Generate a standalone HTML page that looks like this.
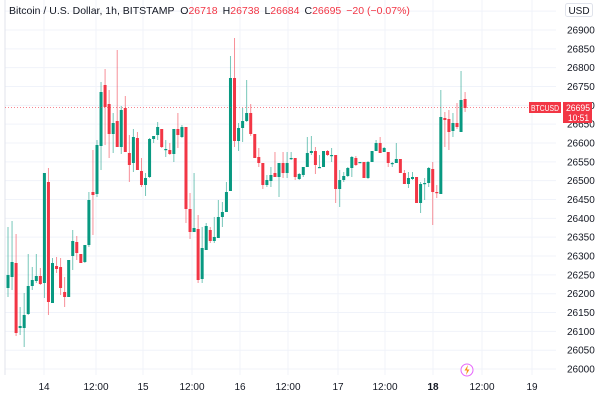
<!DOCTYPE html>
<html><head><meta charset="utf-8">
<style>
html,body{margin:0;padding:0;background:#fff;}
body{width:600px;height:400px;overflow:hidden;position:relative;font-family:"Liberation Sans",sans-serif;}
svg{position:absolute;left:0;top:0;}
</style></head><body>
<svg id="s" width="600" height="400" xmlns="http://www.w3.org/2000/svg" font-family="Liberation Sans, sans-serif">
<g id="grid"></g>
<line x1="5" y1="0" x2="5" y2="375" stroke="#e0e3eb" stroke-width="1"/>
<g id="candles"></g>
<line x1="5" y1="107.5" x2="556" y2="107.5" stroke="#f23645" stroke-width="1" stroke-dasharray="1,2" opacity="0.6"/>
<text x="9" y="14" font-size="10.5" fill="#131722">Bitcoin / U.S. Dollar, 1h, BITSTAMP <tspan dx="3">O</tspan><tspan fill="#f23645">26718</tspan><tspan dx="5">H</tspan><tspan fill="#f23645">26738</tspan><tspan dx="5">L</tspan><tspan fill="#f23645">26684</tspan><tspan dx="5">C</tspan><tspan fill="#f23645">26695</tspan><tspan dx="5" fill="#f23645">−20 (−0.07%)</tspan></text>
<rect x="565.5" y="3.5" width="27" height="13" rx="2" fill="#fff" stroke="#e0e3eb"/>
<text x="579" y="14" font-size="10" fill="#131722" text-anchor="middle">USD</text>
<g id="plabels" font-size="10" fill="#131722"></g>
<g font-size="10" fill="#131722" text-anchor="middle">
<text x="44" y="390">14</text><text x="96" y="390">12:00</text><text x="143" y="390">15</text><text x="192" y="390">12:00</text><text x="240" y="390">16</text><text x="288" y="390">12:00</text><text x="338" y="390">17</text><text x="385" y="390">12:00</text><text x="433" y="390" font-weight="bold">18</text><text x="482" y="390">12:00</text><text x="532" y="390">19</text>
</g>
<rect x="529" y="102" width="32" height="11" fill="#f23645"/>
<text x="531" y="111" font-size="8.5" fill="#fff" textLength="28" lengthAdjust="spacingAndGlyphs">BTCUSD</text>
<rect x="563" y="102" width="29" height="21" fill="#f23645"/>
<text x="566" y="111" font-size="9" fill="#fff" textLength="24" lengthAdjust="spacingAndGlyphs">26695</text>
<text x="568" y="121" font-size="9" fill="#fff" textLength="21" lengthAdjust="spacingAndGlyphs">10:51</text>
<circle cx="467" cy="370" r="6" fill="#fff" stroke="#e040fb" stroke-width="1" opacity="0.8"/>
<path d="M468 365 L464.5 370.5 L467 370.5 L466 375 L469.5 369.5 L467 369.5 Z" fill="#f7931a"/>
</svg>
<script>
var NS="http://www.w3.org/2000/svg";
function el(p,t,a){var e=document.createElementNS(NS,t);for(var k in a)e.setAttribute(k,a[k]);p.appendChild(e);return e;}
var g=document.getElementById('grid'),pl=document.getElementById('plabels');
function yp(p){return 30+(26900-p)*0.3767;}
for(var p=26000;p<=26950;p+=50){var y=yp(p);el(g,'line',{x1:5,x2:556,y1:y,y2:y,stroke:'#f0f3fa','stroke-width':1});if(p<=26900){var t=el(pl,'text',{x:567,y:y+3.5});t.textContent=p;}}
[44,96,143,192,240,288,338,385,433,482,532].forEach(function(x){el(g,'line',{x1:x,x2:x,y1:0,y2:375,stroke:'#f0f3fa','stroke-width':1});});
var d=[
['g',275,288,227,297],['g',262,277,221,290],['r',263,333,234,336],['g',326,328,307,335],['g',315,328,293,347],['g',286,314,254,315],['g',280,286,267,290],['g',276,281,254,283],['r',276,284,268,285],['g',173,283,173,298],
['r',182,302,168,315],['g',263,303,258,303],['r',266,269,257,273],['r',267,288,258,295],['r',292,297,277,307],['g',260,297,260,297],['g',241,256,230,270],['r',242,253,236,260],['r',254,263,254,263],['g',245,262,245,263],
['g',200,245,192,247],['r',192,195,150,235],['g',145,194,140,197],['g',92,146,82,170],['r',85,107,69,145],['r',104,134,90,158],['g',123,134,113,153],['r',121,147,50,147],['g',110,147,106,154],['r',108,152,96,152],
['r',153,165,135,182],['g',137,163,129,172],['r',138,170,132,170],['r',171,185,158,187],['g',178,185,173,196],['g',139,177,138,178],['g',136,139,136,143],['g',127,135,122,140],['r',129,147,129,148],['g',149,150,140,157],
['r',150,154,143,155],['g',129,154,129,162],['r',129,135,113,148],['g',127,137,125,138],['r',127,209,127,223],['r',209,232,193,239],['g',228,232,173,232],['r',229,280,215,283],['g',248,279,227,283],['g',226,250,223,250],
['r',230,241,227,243],['g',237,241,217,243],['g',217,238,200,238],['g',212,217,202,227],['g',192,212,182,212],['g',78,191,56,191],['r',78,141,38,147],['g',128,141,123,151],['g',121,128,108,142],['g',113,121,80,122],
['r',113,134,104,136],['r',134,158,134,158],['r',157,163,148,167],['r',163,185,163,189],['g',180,185,175,187],['g',175,181,167,187],['r',173,177,152,177],['g',163,177,163,197],['r',163,173,152,178],['g',163,173,152,178],
['g',158,159,152,160],['r',158,177,158,180],['g',174,179,173,180],['g',167,175,167,177],['g',153,167,137,167],['g',151,153,136,155],['r',151,165,147,174],['g',167,168,155,168],['g',151,167,151,167],['r',151,155,150,156],
['g',155,156,148,162],['r',155,189,155,203],['g',180,189,170,207],['g',176,180,172,182],['g',168,176,167,177],['g',157,168,156,177],['r',158,165,156,166],['g',162,163,162,163],['r',162,178,162,178],['g',162,178,161,179],
['g',151,162,151,162],['g',143,151,140,151],['r',143,153,137,153],['g',148,152,147,152],['r',152,163,152,167],['g',163,164,162,167],['g',159,163,143,163],['r',159,173,159,173],['r',173,184,170,184],['g',178,184,172,188],
['g',177,179,172,180],['r',177,203,177,203],['g',184,203,182,213],['g',183,184,178,200],['g',168,183,167,187],['r',169,192,162,225],['r',192,193,185,198],['g',117,194,90,194],['r',118,120,112,147],['r',119,132,110,150],
['g',123,131,113,137],['r',123,127,103,129],['g',100,132,71,132],['r',99,108,92,112]
];
var c=document.getElementById('candles');
d.forEach(function(k,i){var x=8+4.045*i;var col=k[0]=='g'?'#089981':'#f23645';
el(c,'line',{x1:x,x2:x,y1:k[3],y2:k[4],stroke:col,'stroke-width':1,opacity:0.55});
var h=Math.max(1.2,k[2]-k[1]);el(c,'rect',{x:x-1.5,y:k[1],width:3,height:h,fill:col});});
</script>
</body></html>
